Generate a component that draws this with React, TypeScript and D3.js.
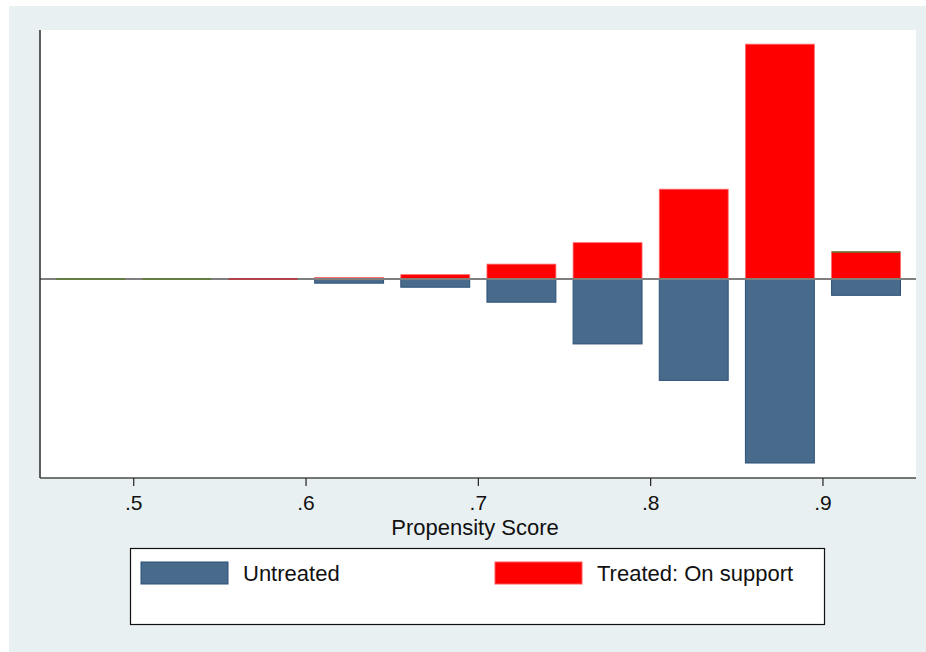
import * as d3 from 'd3';

// bin midpoints of the propensity score histogram
const binCenters = [0.475, 0.525, 0.575, 0.625, 0.675, 0.725, 0.775, 0.825, 0.875, 0.925];
// share of observations per bin (null = empty bin, nothing drawn)
const untreated: (number | null)[] = [null, null, null, 0.01, 0.02, 0.057, 0.16, 0.25, 0.454, 0.04];
const treatedOn: (number | null)[] = [null, null, 0, 0.004, 0.011, 0.037, 0.09, 0.222, 0.58, 0.067];
const treatedOff: (number | null)[] = [0, 0, null, null, null, null, null, null, null, 0];
const tickValues = [0.5, 0.6, 0.7, 0.8, 0.9];
const tickLabels = ['.5', '.6', '.7', '.8', '.9'];
const legendItems = [
  { label: 'Untreated', color: '#486b8c', stroke: '#2b5078' },
  { label: 'Treated: On support', color: '#ff0000', stroke: '#ff5a5a' },
];

const W = 926;
const H = 652;
const plot = { left: 40, right: 916, top: 30, bottom: 478 };
const BIN_W = 0.04;
const FONT = 'Arial, "Liberation Sans", Helvetica, sans-serif';

export default function App() {
  const x = d3.scaleLinear().domain([0.4456, 0.954]).range([plot.left, plot.right]);
  const y = d3.scaleLinear().domain([-0.491, 0.615]).range([plot.bottom, plot.top]);
  const y0 = y(0);
  const barW = x(BIN_W) - x(0);

  const bar = (c: number, lo: number, hi: number) => {
    const top = y(hi);
    const bottom = y(lo);
    return { x: x(c) - barW / 2, y: top, h: Math.max(0, bottom - top) };
  };

  return (
    <svg
      width={W}
      height={H}
      style={{ position: 'absolute', left: 0, top: 0, fontFamily: FONT }}
    >
      <rect x={0} y={0} width={W} height={H} fill="#ffffff" />
      <rect x={9} y={6} width={W - 9} height={H - 6} fill="#e9f0f2" />
      <rect
        x={plot.left}
        y={plot.top}
        width={plot.right - plot.left}
        height={plot.bottom - plot.top}
        fill="#ffffff"
      />

      {/* untreated, drawn downwards */}
      {binCenters.map((c, i) => {
        const v = untreated[i];
        if (v == null) return null;
        const b = bar(c, -v, 0);
        return (
          <rect key={'u' + i} x={b.x} y={b.y} width={barW} height={b.h}
            fill="#486b8c" stroke="#2b5078" strokeWidth={1} />
        );
      })}

      {/* treated on support */}
      {binCenters.map((c, i) => {
        const v = treatedOn[i];
        if (v == null || v === 0) return null;
        const b = bar(c, 0, v);
        return (
          <rect key={'t' + i} x={b.x} y={b.y} width={barW} height={b.h}
            fill="#ff0000" stroke="#ff6a6a" strokeWidth={0.8} />
        );
      })}

      {/* zero line */}
      <line x1={plot.left} x2={plot.right} y1={y0} y2={y0} stroke="#7f7f7f" strokeWidth={2} />

      {/* empty treated bins show as a flat line */}
      {binCenters.map((c, i) => {
        const v = treatedOn[i];
        if (v !== 0) return null;
        return (
          <line key={'z' + i} x1={x(c) - barW / 2} x2={x(c) + barW / 2} y1={y0} y2={y0}
            stroke="#c0303a" strokeWidth={1.5} />
        );
      })}

      {/* treated off support, stacked on top */}
      {binCenters.map((c, i) => {
        const v = treatedOff[i];
        if (v == null) return null;
        const base = treatedOn[i] ?? 0;
        const yy = y(base + v);
        return (
          <line key={'o' + i} x1={x(c) - barW / 2} x2={x(c) + barW / 2} y1={yy} y2={yy}
            stroke="#5b7a2e" strokeWidth={1.5} />
        );
      })}

      {/* axes */}
      <line x1={plot.left} x2={plot.left} y1={plot.top} y2={plot.bottom} stroke="#2a2a2a" strokeWidth={1.5} />
      <line x1={plot.left} x2={plot.right} y1={plot.bottom} y2={plot.bottom} stroke="#4a4a4a" strokeWidth={1.5} />
      {tickValues.map((t, i) => (
        <g key={t} transform={`translate(${x(t)},${plot.bottom})`}>
          <line y1={0} y2={8} stroke="#222" strokeWidth={1.2} />
          <text y={32} textAnchor="middle" fontSize={21} fill="#111">{tickLabels[i]}</text>
        </g>
      ))}
      <text x={(plot.left + plot.right) / 2 - 3} y={535} textAnchor="middle" fontSize={22} fill="#111">
        Propensity Score
      </text>

      {/* legend */}
      <rect x={130.5} y={548.5} width={694} height={76} fill="#ffffff" stroke="#111" strokeWidth={1.2} />
      {legendItems.map((d, i) => {
        const lx = i === 0 ? 141 : 495;
        return (
          <g key={d.label}>
            <rect x={lx} y={562} width={87} height={22} fill={d.color} stroke={d.stroke} strokeWidth={1} />
            <text x={lx + 102} y={581} fontSize={22} fill="#111">{d.label}</text>
          </g>
        );
      })}
    </svg>
  );
}
